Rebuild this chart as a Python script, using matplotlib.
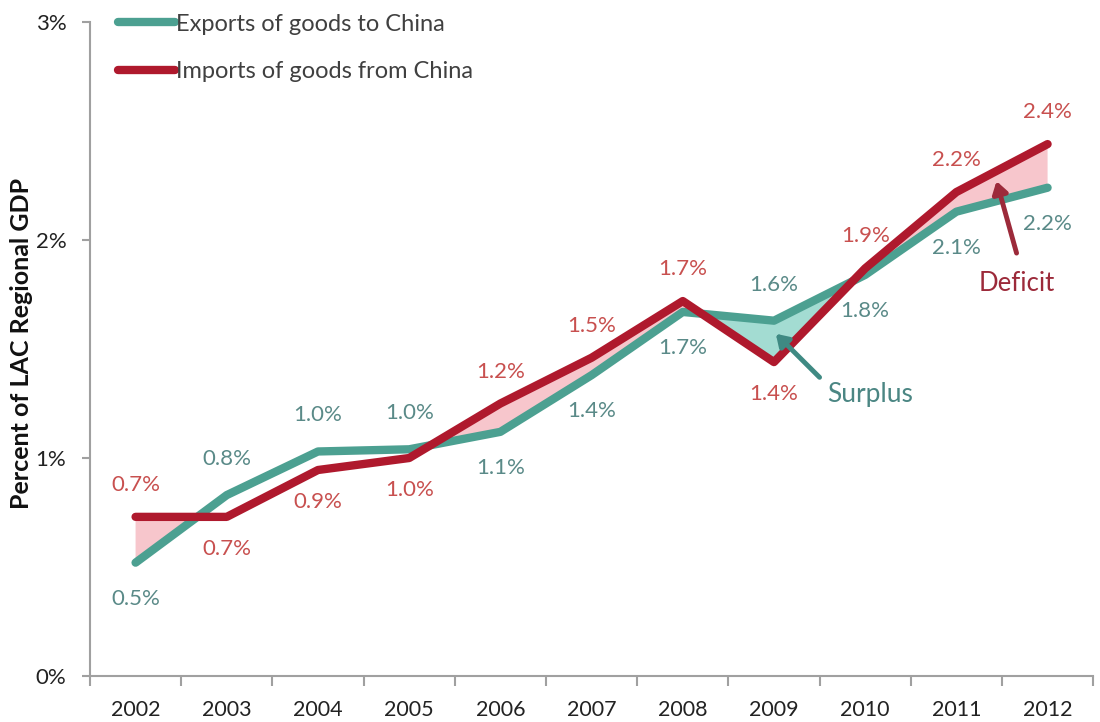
import matplotlib.pyplot as plt
import numpy as np

plt.rcParams['font.family'] = ['Lato', 'DejaVu Sans']

# data (percent of LAC regional GDP)
years = [2002, 2003, 2004, 2005, 2006, 2007, 2008, 2009, 2010, 2011, 2012]
exports = [0.52, 0.83, 1.03, 1.04, 1.12, 1.38, 1.67, 1.63, 1.84, 2.13, 2.24]
imports = [0.73, 0.73, 0.945, 1.0, 1.25, 1.46, 1.72, 1.44, 1.87, 2.22, 2.44]
# where each value label sits: +1 above the point, -1 below
exp_side = [-1, 1, 1, 1, -1, -1, -1, 1, -1, -1, -1]
imp_side = [1, -1, -1, -1, 1, 1, 1, -1, 1, 1, 1]
ytick_vals = [0, 1, 2, 3]

teal = '#4ca091'
red = '#af192d'
teal_txt = '#5a8a88'
red_txt = '#c8504f'

x = np.array(years)
e = np.array(exports)
m = np.array(imports)

fig = plt.figure(figsize=(11, 7.22), dpi=100)
ax = fig.add_axes([0.0818, 0.0637, 0.912, 0.9058])

ax.fill_between(x, e, m, where=m >= e, interpolate=True, color='#f7c6cc', lw=0)
ax.fill_between(x, e, m, where=(e > m) & (x >= 2008), interpolate=True,
                color='#a3dcd2', lw=0)

ax.plot(x, e, color=teal, lw=6, solid_capstyle='round', label='Exports of goods to China')
ax.plot(x, m, color=red, lw=6, solid_capstyle='round', label='Imports of goods from China')

for xi, v, s in zip(x, e, exp_side):
    ax.annotate(f'{v:.1f}%', (xi, v), xytext=(0, 26 * s), textcoords='offset points',
                ha='center', va='center', fontsize=16, color=teal_txt)
for xi, v, s in zip(x, m, imp_side):
    ax.annotate(f'{v:.1f}%', (xi, v), xytext=(0, 23 * s), textcoords='offset points',
                ha='center', va='center', fontsize=16, color=red_txt)

# callouts
ax.annotate('', xy=(2009.02, 1.57), xytext=(2009.5, 1.37),
            arrowprops=dict(arrowstyle='-|>,head_width=0.45,head_length=0.7',
                            lw=3.5, color='#3f8a83', shrinkA=0, shrinkB=0))
ax.text(2010.05, 1.29, 'Surplus', ha='center', va='center', fontsize=19, color='#4b8683')
ax.annotate('', xy=(2011.44, 2.27), xytext=(2011.66, 1.94),
            arrowprops=dict(arrowstyle='-|>,head_width=0.45,head_length=0.7',
                            lw=3.5, color='#9c2a3a', shrinkA=0, shrinkB=0))
ax.text(2011.66, 1.80, 'Deficit', ha='center', va='center', fontsize=18.5, color='#9c2a3a')

ax.set_xlim(2001.5, 2012.5)
ax.set_ylim(0, 3)
ax.set_yticks(ytick_vals)
ax.set_yticklabels([f'{t}%' for t in ytick_vals])
ax.set_xticks(years)
ax.set_xticklabels([str(y) for y in years])
ax.set_xticks(np.arange(2001.5, 2013.0, 1.0), minor=True)
ax.tick_params(axis='x', which='major', length=0, pad=17, labelsize=15.5, labelcolor='#222222')
ax.tick_params(axis='x', which='minor', length=7, width=1.5, color='#a0a0a0', direction='out')
ax.tick_params(axis='y', length=6, width=1.5, color='#a0a0a0', labelsize=16,
               labelcolor='#222222', pad=11)

for side in ['top', 'right']:
    ax.spines[side].set_visible(False)
for side in ['left', 'bottom']:
    ax.spines[side].set_color('#a0a0a0')
    ax.spines[side].set_linewidth(1.5)

fig.text(0.020, 0.525, 'Percent of LAC Regional GDP', rotation=90, ha='center',
         va='center', fontsize=18, fontweight='bold', color='#111111')

leg = ax.legend(loc='upper left', bbox_to_anchor=(0.1073, 0.981), bbox_transform=fig.transFigure,
                frameon=False, fontsize=17, handlelength=2.4, handletextpad=0.05,
                labelspacing=1.13, borderaxespad=0, borderpad=0)
for t in leg.get_texts():
    t.set_color('#404040')

fig.savefig('out.png', dpi=100)
